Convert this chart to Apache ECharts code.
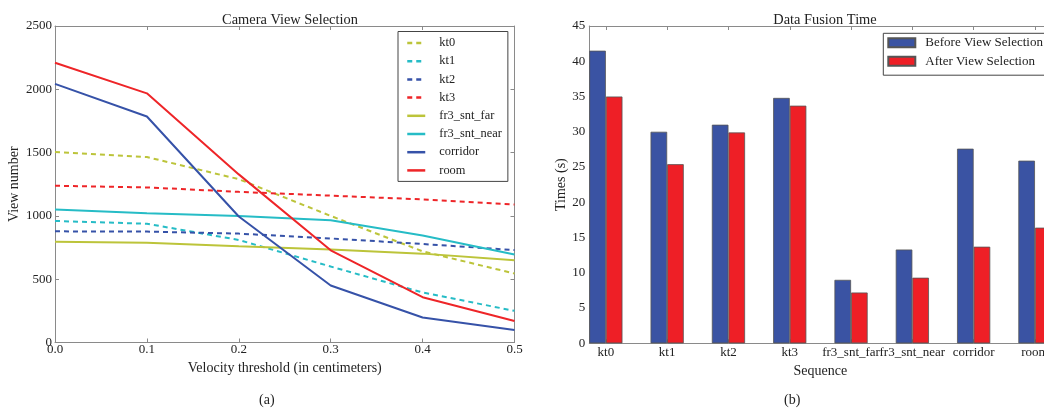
<!DOCTYPE html>
<html>
<head>
<meta charset="utf-8">
<script src="https://cdn.jsdelivr.net/npm/echarts@6/dist/echarts.min.js"></script>
<style>
  html, body { margin: 0; padding: 0; background: #fff; }
  #myChart { width: 1044px; height: 413px; }
</style>
</head>
<body>
<div id="myChart"></div>
<script>
// (a) camera view selection
const velocities = [0.0, 0.1, 0.2, 0.3, 0.4, 0.5]
const kt0 = [1505, 1465, 1290, 1000, 720, 545]
const kt1 = [960, 938, 810, 600, 395, 250]
const kt2 = [878, 876, 860, 822, 778, 730]
const kt3 = [1238, 1225, 1190, 1160, 1130, 1090]
const fr3SntFar = [795, 788, 760, 735, 702, 650]
const fr3SntNear = [1050, 1020, 1000, 965, 845, 695]
const corridor = [2043, 1785, 995, 450, 197, 98]
const room = [2210, 1968, 1328, 728, 358, 170]

// (b) data fusion time
const sequences = ['kt0', 'kt1', 'kt2', 'kt3', 'fr3_snt_far', 'fr3_snt_near', 'corridor', 'room']
const beforeSel = [41.5, 30.0, 31.0, 34.8, 9.0, 13.3, 27.6, 25.9]
const afterSel = [35.0, 25.4, 29.9, 33.7, 7.2, 9.3, 13.7, 16.4]

const serif = 'Liberation Serif'
const axisGray = '#8a8a8a'
const txt = { fontFamily: serif, fontSize: 13, color: '#222' }
const nameTxt = { fontFamily: serif, fontSize: 14, color: '#222' }

const yellow = '#bcc43a'
const cyan = '#26bcc6'
const blue = '#3652a8'
const red = '#ee2528'
const barBlue = '#3a53a3'
const barRed = '#ee1f26'

const lineDefs = [
  ['kt0', kt0, yellow, true],
  ['kt1', kt1, cyan, true],
  ['kt2', kt2, blue, true],
  ['kt3', kt3, red, true],
  ['fr3_snt_far', fr3SntFar, yellow, false],
  ['fr3_snt_near', fr3SntNear, cyan, false],
  ['corridor', corridor, blue, false],
  ['room', room, red, false]
]

// bar layout like matplotlib: pair centered on integer index
const halfSpan = 0.27
const barPx = 16.6
const seqIdx = sequences.map((s, i) => i)

function frameAxis(extra) {
  return Object.assign({
    axisLine: { show: true, onZero: false, lineStyle: { color: axisGray, width: 1 } },
    axisTick: { show: true, inside: true, length: 4, lineStyle: { color: axisGray } },
    axisLabel: { show: false },
    splitLine: { show: false }
  }, extra)
}

const option = {
  animation: false,
  backgroundColor: '#fff',
  title: [
    { text: 'Camera View Selection', left: 285, top: 8, textAlign: 'center',
      textStyle: { fontFamily: serif, fontSize: 14.4, fontWeight: 'normal', color: '#222' } },
    { text: 'Data Fusion Time', left: 820, top: 8, textAlign: 'center',
      textStyle: { fontFamily: serif, fontSize: 14.4, fontWeight: 'normal', color: '#222' } }
  ],
  legend: [
    {
      data: lineDefs.map(d => d[0]),
      orient: 'vertical',
      left: 398,
      top: 31.5,
      padding: [4.5, 6, 4, 8],
      itemWidth: 18,
      itemHeight: 14,
      itemGap: 4.2,
      itemStyle: { opacity: 0 },
      lineStyle: { width: 2.5 },
      borderColor: '#444',
      borderWidth: 1,
      textStyle: { fontFamily: serif, fontSize: 12.4, color: '#222', lineHeight: 14, padding: [0, 0, 0, 9] }
    },
    {
      data: ['Before View Selection', 'After View Selection'],
      orient: 'vertical',
      left: 883.3,
      top: 33.3,
      padding: [2.5, 8, 7, 4],
      itemWidth: 27,
      itemHeight: 9,
      itemGap: 4.4,
      icon: 'rect',
      borderColor: '#444',
      borderWidth: 1,
      textStyle: { fontFamily: serif, fontSize: 13, color: '#222', lineHeight: 14, padding: [0, 0, 0, 5] }
    }
  ],
  grid: [
    { left: 55, right: 529.5, top: 26, bottom: 70.5, outerBoundsMode: 'none' },
    { left: 589.3, width: 462.2, top: 26, bottom: 69.7, outerBoundsMode: 'none' }
  ],
  xAxis: [
    {
      gridIndex: 0, type: 'value', min: 0, max: 0.5, interval: 0.1,
      name: 'Velocity threshold (in centimeters)', nameLocation: 'middle', nameGap: 15,
      nameTextStyle: nameTxt,
      axisLine: { onZero: false, lineStyle: { color: axisGray } },
      axisTick: { inside: true, length: 4, lineStyle: { color: axisGray } },
      axisLabel: Object.assign({ margin: 1, formatter: v => v.toFixed(1) }, txt),
      splitLine: { show: false }
    },
    frameAxis({ gridIndex: 0, type: 'value', position: 'top', min: 0, max: 0.5, interval: 0.1 }),
    {
      gridIndex: 1, type: 'value', min: -halfSpan, max: sequences.length - 1 + halfSpan,
      name: 'Sequence', nameLocation: 'middle', nameGap: 16,
      nameTextStyle: nameTxt,
      axisLine: { onZero: false, lineStyle: { color: axisGray } },
      axisTick: { inside: true, length: 4, lineStyle: { color: axisGray }, customValues: seqIdx },
      axisLabel: Object.assign({ margin: 3, customValues: seqIdx,
        formatter: v => sequences[Math.round(v)] }, txt),
      splitLine: { show: false }
    },
    frameAxis({ gridIndex: 1, type: 'value', position: 'top', min: -halfSpan,
      max: sequences.length - 1 + halfSpan,
      axisTick: { show: true, inside: true, length: 4, lineStyle: { color: axisGray }, customValues: seqIdx } })
  ],
  yAxis: [
    {
      gridIndex: 0, type: 'value', min: 0, max: 2500, interval: 500,
      name: 'View number', nameLocation: 'middle', nameGap: 34,
      nameTextStyle: nameTxt,
      axisLine: { show: true, onZero: false, lineStyle: { color: axisGray } },
      axisTick: { show: true, inside: true, length: 4, lineStyle: { color: axisGray } },
      axisLabel: Object.assign({ margin: 3, formatter: v => String(v) }, txt),
      splitLine: { show: false }
    },
    frameAxis({ gridIndex: 0, type: 'value', position: 'right', min: 0, max: 2500, interval: 500 }),
    {
      gridIndex: 1, type: 'value', min: 0, max: 45, interval: 5,
      name: 'Times (s)', nameLocation: 'middle', nameGap: 18,
      nameTextStyle: nameTxt,
      axisLine: { show: true, onZero: false, lineStyle: { color: axisGray } },
      axisTick: { show: true, inside: true, length: 4, lineStyle: { color: axisGray } },
      axisLabel: Object.assign({ margin: 4, formatter: v => String(v) }, txt),
      splitLine: { show: false }
    },
    frameAxis({ gridIndex: 1, type: 'value', position: 'right', min: 0, max: 45, interval: 5 })
  ],
  graphic: [
    { type: 'text', left: 259, top: 393, style: { text: '(a)', font: '14px "Liberation Serif"', fill: '#222' } },
    { type: 'text', left: 784, top: 393, style: { text: '(b)', font: '14px "Liberation Serif"', fill: '#222' } }
  ],
  series: lineDefs.map(([name, vals, color, dashed]) => ({
    name,
    type: 'line',
    xAxisIndex: 0,
    yAxisIndex: 0,
    symbol: 'none',
    data: velocities.map((v, i) => [v, vals[i]]),
    lineStyle: { color, width: 2, type: dashed ? [5, 4] : 'solid' },
    itemStyle: { color }
  })).concat([
    {
      name: 'Before View Selection',
      type: 'bar',
      xAxisIndex: 2,
      yAxisIndex: 2,
      barWidth: barPx,
      barGap: '0%',
      data: sequences.map((s, i) => [i, beforeSel[i]]),
      itemStyle: { color: barBlue, borderColor: '#555', borderWidth: 0.8 }
    },
    {
      name: 'After View Selection',
      type: 'bar',
      xAxisIndex: 2,
      yAxisIndex: 2,
      barWidth: barPx,
      barGap: '0%',
      data: sequences.map((s, i) => [i, afterSel[i]]),
      itemStyle: { color: barRed, borderColor: '#555', borderWidth: 0.8 }
    }
  ])
}

const myChart = echarts.init(document.getElementById('myChart'))
myChart.setOption(option)
</script>
</body>
</html>
